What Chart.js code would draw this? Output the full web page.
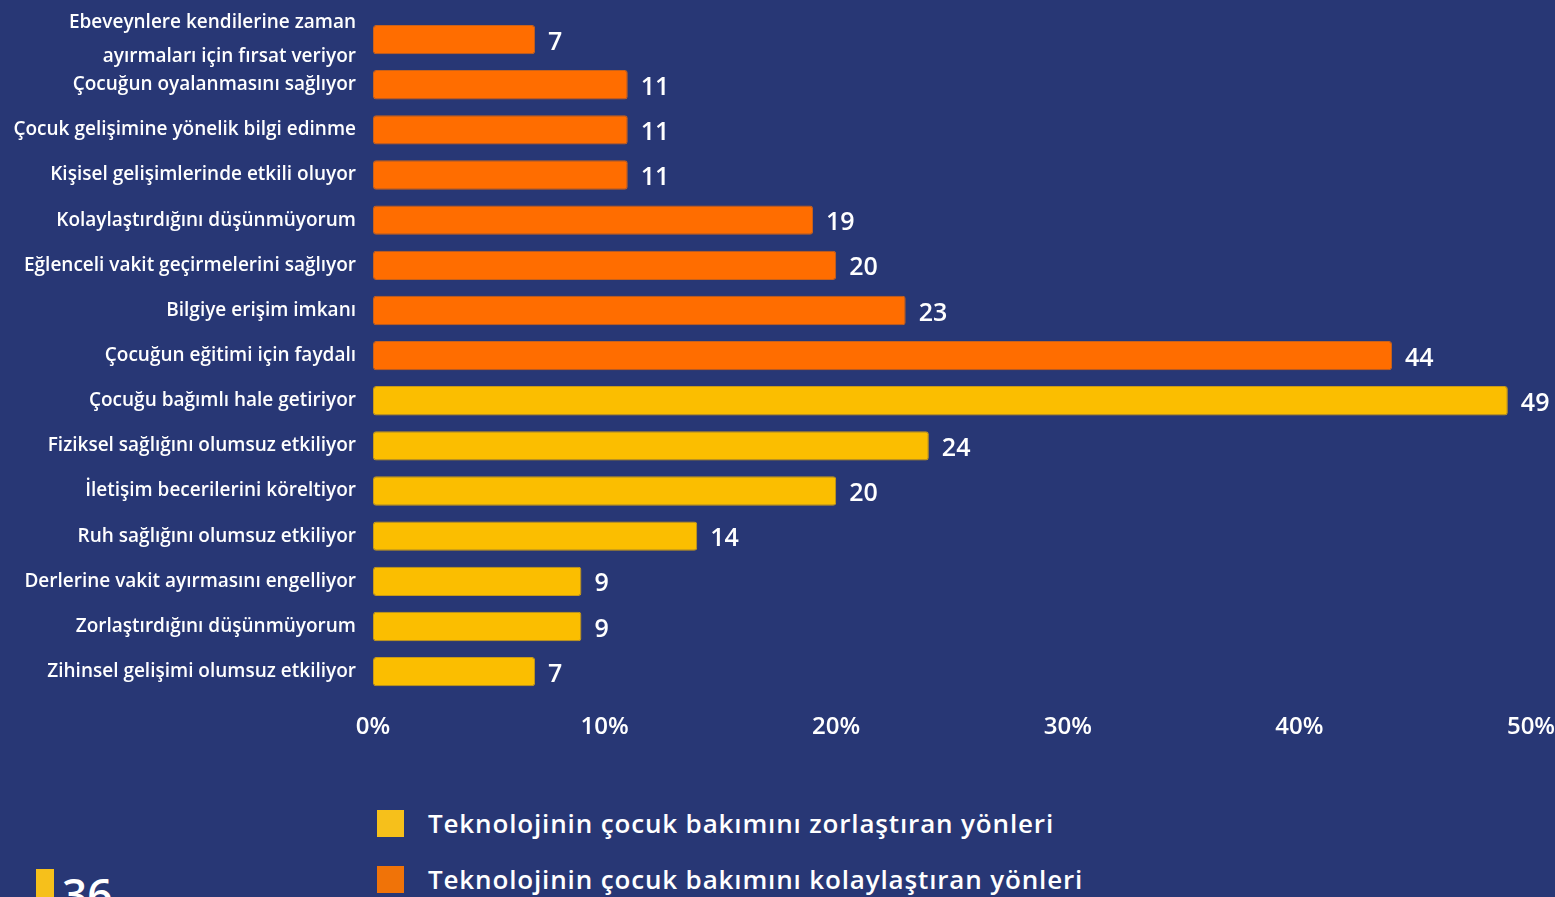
<!DOCTYPE html>
<html lang="tr">
<head>
<meta charset="utf-8">
<title>Teknolojinin çocuk bakımına etkisi</title>
<script src="https://cdn.jsdelivr.net/npm/chart.js@4.4.1/dist/chart.umd.min.js"></script>
<style>
    html, body {
        margin: 0;
        padding: 0;
        width: 1555px;
        height: 897px;
        overflow: hidden;
        background: #283775;
        font-family: "Open Sans", "DejaVu Sans", sans-serif;
        color: #ffffff;
    }
    #chart-wrap {
        position: absolute;
        left: 0;
        top: 0;
        width: 1555px;
        height: 761px;
    }
    #legend {
        position: absolute;
        left: 377px;
        top: 808px;
    }
    .legend-item {
        display: flex;
        align-items: center;
        height: 30px;
        margin-bottom: 26px;
        font-size: 26px;
        font-weight: 600;
        letter-spacing: 0.85px;
    }
    .legend-box {
        width: 27px;
        height: 27px;
        margin-right: 24px;
    }
    #next-block {
        position: absolute;
        left: 36px;
        top: 869px;
        display: flex;
        align-items: flex-start;
    }
    #next-block .bar {
        width: 18px;
        height: 40px;
        background: #F6C01B;
        margin-right: 8px;
    }
    #next-block .num {
        font-size: 44px;
        font-weight: 600;
        line-height: 1;
        margin-top: 2px;
    }
</style>
</head>
<body>
<div id="chart-wrap"><canvas id="main-chart"></canvas></div>

<div id="legend">
    <div class="legend-item"><span class="legend-box" style="background:#F6C01B"></span>Teknolojinin çocuk bakımını zorlaştıran yönleri</div>
    <div class="legend-item"><span class="legend-box" style="background:#F07308"></span>Teknolojinin çocuk bakımını kolaylaştıran yönleri</div>
</div>

<div id="next-block"><span class="bar"></span><span class="num">36</span></div>

<script>
// Categories (top to bottom)
const categories = [
    ['Ebeveynlere kendilerine zaman', 'ayırmaları için fırsat veriyor'],
    'Çocuğun oyalanmasını sağlıyor',
    'Çocuk gelişimine yönelik bilgi edinme',
    'Kişisel gelişimlerinde etkili oluyor',
    'Kolaylaştırdığını düşünmüyorum',
    'Eğlenceli vakit geçirmelerini sağlıyor',
    'Bilgiye erişim imkanı',
    'Çocuğun eğitimi için faydalı',
    'Çocuğu bağımlı hale getiriyor',
    'Fiziksel sağlığını olumsuz etkiliyor',
    'İletişim becerilerini köreltiyor',
    'Ruh sağlığını olumsuz etkiliyor',
    'Derlerine vakit ayırmasını engelliyor',
    'Zorlaştırdığını düşünmüyorum',
    'Zihinsel gelişimi olumsuz etkiliyor'
];

// Series values (%), null where the row belongs to the other group
const easierValues = [7, 11, 11, 11, 19, 20, 23, 44, null, null, null, null, null, null, null];
const harderValues = [null, null, null, null, null, null, null, null, 49, 24, 20, 14, 9, 9, 7];

const seriesLabels = [
    'Teknolojinin çocuk bakımını kolaylaştıran yönleri',
    'Teknolojinin çocuk bakımını zorlaştıran yönleri'
];

// Axis ticks
const tickValues = [0, 10, 20, 30, 40, 50];

const FONT = '"Open Sans", "DejaVu Sans", sans-serif';

// Draw value labels at end of each bar
const valueLabelPlugin = {
    id: 'valueLabels',
    afterDatasetsDraw(chart) {
        const ctx = chart.ctx;
        ctx.save();
        ctx.fillStyle = '#ffffff';
        ctx.font = '600 25px ' + FONT;
        ctx.textAlign = 'left';
        ctx.textBaseline = 'middle';
        chart.data.datasets.forEach((ds, i) => {
            const meta = chart.getDatasetMeta(i);
            meta.data.forEach((bar, j) => {
                const v = ds.data[j];
                if (v === null || v === undefined) return;
                ctx.fillText(String(v), bar.x + 13, bar.y + 3);
            });
        });
        ctx.restore();
    }
};

function initializeChart() {
    const ctx = document.getElementById('main-chart');

    new Chart(ctx, {
        type: 'bar',
        data: {
            labels: categories,
            datasets: [{
                label: seriesLabels[0],
                data: easierValues,
                backgroundColor: '#FF6D00',
                borderColor: '#C8621C',
                borderWidth: 1,
                borderRadius: 3,
                borderSkipped: false
            }, {
                label: seriesLabels[1],
                data: harderValues,
                backgroundColor: '#FBBE00',
                borderColor: '#C99A17',
                borderWidth: 1,
                borderRadius: 3,
                borderSkipped: false
            }]
        },
        options: {
            indexAxis: 'y',
            responsive: true,
            maintainAspectRatio: false,
            animation: false,
            grouped: false,
            barPercentage: 0.65,
            categoryPercentage: 1,
            layout: {
                padding: { top: 17, right: 0, bottom: 0, left: 0 }
            },
            plugins: {
                legend: { display: false },
                tooltip: { enabled: false }
            },
            scales: {
                x: {
                    min: 0,
                    max: 50,
                    afterBuildTicks(scale) {
                        scale.ticks = tickValues.map(v => ({ value: v }));
                    },
                    afterFit(scale) {
                        scale.paddingRight = 24;
                    },
                    grid: { display: false, drawTicks: false },
                    border: { display: false },
                    ticks: {
                        color: '#ffffff',
                        padding: 19,
                        maxRotation: 0,
                        font: { family: FONT, size: 24, weight: '600' },
                        callback: v => v + '%'
                    }
                },
                y: {
                    afterFit(scale) {
                        scale.width = 373;
                        scale.paddingTop = 0;
                        scale.paddingBottom = 0;
                    },
                    grid: { display: false, drawTicks: false },
                    border: { display: false },
                    ticks: {
                        color: '#ffffff',
                        padding: 17,
                        autoSkip: false,
                        font: { family: FONT, size: 19, weight: '600', lineHeight: 1.8 }
                    }
                }
            }
        },
        plugins: [valueLabelPlugin]
    });
}

document.addEventListener('DOMContentLoaded', initializeChart);
</script>
</body>
</html>
